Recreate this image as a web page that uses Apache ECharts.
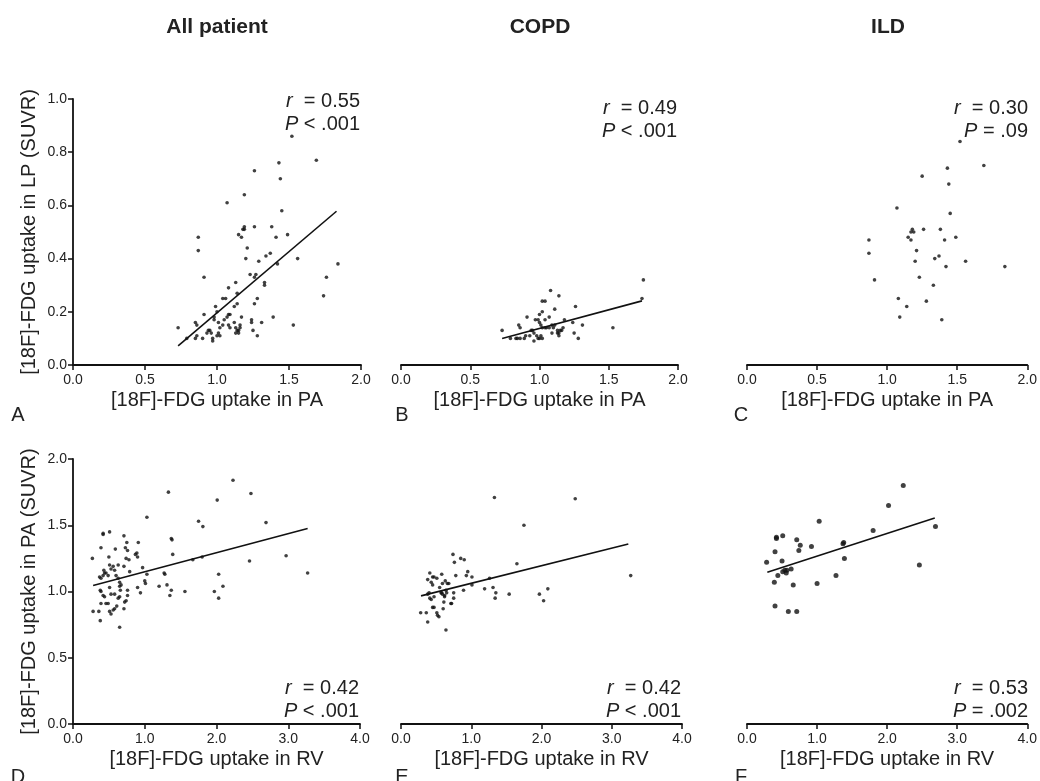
<!DOCTYPE html>
<html>
<head>
<meta charset="utf-8">
<script src="https://cdn.jsdelivr.net/npm/echarts@6/dist/echarts.min.js"></script>
<style>
html, body { margin: 0; padding: 0; background: #fff; }
#main { width: 1040px; height: 781px; }
</style>
</head>
<body>
<div id="main"></div>
<script>
// 列标题
const columnTitles = ['All patient', 'COPD', 'ILD'];
const panelLetters = ['A', 'B', 'C', 'D', 'E', 'F'];

// LP vs PA (top row): [PA, LP]
const allLpPa = [[0.73,0.14],[0.79,0.10],[0.85,0.16],[0.86,0.15],[0.85,0.10],[0.86,0.11],[0.87,0.48],[0.87,0.43],[0.91,0.33],[0.91,0.19],[0.90,0.10],[0.93,0.12],[0.94,0.13],[0.95,0.13],[0.96,0.12],[0.99,0.22],[0.98,0.18],[0.98,0.17],[1.00,0.20],[0.97,0.09],[0.97,0.10],[1.00,0.11],[1.01,0.12],[1.02,0.11],[1.01,0.16],[1.02,0.14],[1.05,0.17],[1.04,0.15],[1.04,0.25],[1.06,0.25],[1.07,0.18],[1.08,0.15],[1.09,0.14],[1.08,0.29],[1.07,0.61],[1.08,0.19],[1.09,0.19],[1.12,0.22],[1.12,0.16],[1.13,0.31],[1.14,0.23],[1.14,0.27],[1.13,0.14],[1.14,0.13],[1.15,0.13],[1.16,0.14],[1.13,0.12],[1.15,0.12],[1.16,0.15],[1.17,0.18],[1.15,0.49],[1.17,0.48],[1.18,0.51],[1.19,0.52],[1.19,0.51],[1.19,0.64],[1.20,0.40],[1.21,0.44],[1.23,0.34],[1.24,0.17],[1.24,0.16],[1.26,0.73],[1.26,0.52],[1.26,0.33],[1.27,0.34],[1.26,0.23],[1.25,0.13],[1.28,0.11],[1.28,0.25],[1.29,0.39],[1.31,0.16],[1.33,0.30],[1.33,0.31],[1.34,0.41],[1.37,0.42],[1.38,0.52],[1.39,0.18],[1.41,0.48],[1.42,0.38],[1.43,0.76],[1.44,0.70],[1.45,0.58],[1.49,0.49],[1.52,0.86],[1.53,0.15],[1.56,0.40],[1.69,0.77],[1.74,0.26],[1.76,0.33],[1.84,0.38]];
const allLpPaFit = [[0.73,0.072],[1.83,0.578]];

const copdLpPa = [[1.75,0.32],[1.74,0.25],[1.53,0.14],[1.31,0.15],[1.26,0.22],[1.25,0.12],[1.24,0.16],[1.28,0.10],[1.18,0.17],[1.17,0.14],[1.14,0.26],[1.08,0.28],[1.11,0.21],[1.02,0.24],[1.04,0.24],[1.07,0.18],[1.04,0.17],[1.02,0.20],[1.00,0.19],[0.97,0.17],[0.99,0.17],[0.91,0.18],[1.00,0.16],[1.01,0.15],[1.02,0.14],[1.04,0.14],[1.05,0.14],[1.07,0.14],[1.09,0.15],[1.11,0.15],[1.13,0.13],[1.14,0.12],[1.15,0.13],[1.16,0.13],[1.13,0.12],[1.14,0.11],[0.94,0.13],[0.95,0.13],[0.96,0.12],[0.98,0.11],[0.99,0.10],[0.96,0.09],[1.01,0.11],[1.02,0.10],[1.00,0.10],[0.85,0.15],[0.86,0.14],[0.89,0.10],[0.90,0.11],[0.84,0.10],[0.86,0.10],[0.83,0.10],[0.79,0.10],[0.73,0.13],[0.93,0.11],[1.09,0.12],[1.10,0.14]];
const copdLpPaFit = [[0.73,0.10],[1.74,0.241]];

const ildLpPa = [[1.52,0.84],[1.69,0.75],[1.43,0.74],[1.44,0.68],[1.25,0.71],[1.07,0.59],[1.45,0.57],[1.18,0.51],[1.19,0.50],[1.17,0.50],[1.26,0.51],[1.38,0.51],[1.15,0.48],[1.17,0.47],[1.41,0.47],[1.49,0.48],[0.87,0.47],[0.87,0.42],[1.21,0.43],[1.37,0.41],[1.34,0.40],[1.20,0.39],[1.56,0.39],[1.42,0.37],[1.84,0.37],[1.23,0.33],[0.91,0.32],[1.33,0.30],[1.08,0.25],[1.28,0.24],[1.14,0.22],[1.09,0.18],[1.39,0.17]];

// PA vs RV (bottom row): [RV, PA]
const allPaRv = [[0.27,1.25],[0.28,0.85],[0.36,0.85],[0.38,0.78],[0.39,1.33],[0.42,1.43],[0.42,1.44],[0.51,1.45],[0.50,1.26],[0.37,1.11],[0.39,1.10],[0.42,1.12],[0.43,1.16],[0.44,1.14],[0.38,1.01],[0.39,1.00],[0.42,0.97],[0.44,0.96],[0.39,0.91],[0.46,0.91],[0.49,0.91],[0.51,0.85],[0.53,0.83],[0.56,0.86],[0.58,0.87],[0.46,1.14],[0.49,1.12],[0.51,1.20],[0.53,1.17],[0.56,1.19],[0.58,1.16],[0.51,1.03],[0.53,0.98],[0.58,0.98],[0.59,1.32],[0.60,1.12],[0.63,1.10],[0.65,1.07],[0.63,1.20],[0.65,1.04],[0.67,1.05],[0.66,1.01],[0.65,0.96],[0.63,0.95],[0.61,0.89],[0.65,0.73],[0.71,1.42],[0.71,1.19],[0.71,0.87],[0.73,1.33],[0.75,1.37],[0.76,1.31],[0.74,1.25],[0.78,1.24],[0.72,0.92],[0.74,0.93],[0.76,0.97],[0.76,1.01],[0.79,1.15],[0.87,1.28],[0.89,1.29],[0.90,1.26],[0.91,1.37],[0.90,1.03],[0.94,0.99],[0.97,1.18],[1.00,1.08],[1.01,1.06],[1.03,1.56],[1.03,1.13],[1.20,1.04],[1.27,1.14],[1.28,1.13],[1.31,1.05],[1.33,1.75],[1.35,0.97],[1.37,1.01],[1.37,1.40],[1.38,1.39],[1.39,1.28],[1.56,1.00],[1.67,1.24],[1.75,1.53],[1.81,1.49],[1.80,1.26],[1.97,1.00],[2.01,1.69],[2.03,1.13],[2.03,0.95],[2.09,1.04],[2.23,1.84],[2.46,1.23],[2.48,1.74],[2.69,1.52],[2.97,1.27],[3.27,1.14]];
const allPaRvFit = [[0.28,1.045],[3.27,1.475]];

const copdPaRv = [[1.33,1.71],[2.48,1.70],[1.75,1.50],[1.65,1.21],[3.27,1.12],[1.26,1.10],[1.31,1.03],[1.19,1.02],[1.35,0.99],[1.34,0.95],[1.54,0.98],[1.97,0.98],[2.09,1.02],[2.03,0.93],[0.89,1.01],[1.01,1.05],[1.01,1.11],[0.95,1.15],[0.93,1.12],[0.85,1.25],[0.90,1.24],[0.74,1.28],[0.76,1.22],[0.78,1.12],[0.75,0.99],[0.75,0.95],[0.71,0.91],[0.72,0.91],[0.64,0.71],[0.66,1.06],[0.68,1.06],[0.63,1.08],[0.59,1.06],[0.58,1.13],[0.64,1.01],[0.65,0.99],[0.62,0.96],[0.61,0.92],[0.60,0.87],[0.55,1.03],[0.57,0.99],[0.59,0.98],[0.62,0.97],[0.51,1.10],[0.47,1.11],[0.41,1.14],[0.43,1.07],[0.45,1.11],[0.38,1.09],[0.45,1.05],[0.40,0.99],[0.38,0.98],[0.41,0.95],[0.43,0.94],[0.47,0.96],[0.45,0.88],[0.47,0.88],[0.51,0.84],[0.52,0.82],[0.54,0.81],[0.28,0.84],[0.36,0.84],[0.38,0.77],[0.58,0.99]];
const copdPaRvFit = [[0.285,0.967],[3.236,1.359]];

const ildPaRv = [[2.23,1.80],[2.02,1.65],[1.03,1.53],[1.80,1.46],[2.69,1.49],[2.46,1.20],[0.42,1.41],[0.42,1.40],[0.51,1.42],[0.71,1.39],[0.76,1.35],[0.74,1.31],[0.92,1.34],[0.40,1.30],[1.38,1.37],[1.37,1.36],[0.28,1.22],[0.50,1.23],[1.39,1.25],[0.51,1.15],[0.54,1.16],[0.57,1.16],[0.56,1.14],[0.63,1.17],[0.44,1.12],[0.39,1.07],[0.66,1.05],[1.00,1.06],[1.27,1.12],[0.40,0.89],[0.59,0.85],[0.71,0.85]];
const ildPaRvFit = [[0.29,1.146],[2.68,1.555]];

// r / P
const rValues = ['0.55', '0.49', '0.30', '0.42', '0.42', '0.53'];
const pValues = ['< .001', '< .001', '= .09', '< .001', '< .001', '= .002'];

const FONT = '"Liberation Sans", Arial, sans-serif';
const chart = echarts.init(document.getElementById('main'));

const panels = [
    { grid: { left: 73, top: 99, width: 288, height: 266 }, pts: allLpPa, fit: allLpPaFit, row: 0, showY: true, dot: 3.6 },
    { grid: { left: 401, top: 99, width: 277, height: 266 }, pts: copdLpPa, fit: copdLpPaFit, row: 0, showY: false, dot: 3.6 },
    { grid: { left: 747, top: 99, width: 282, height: 266 }, pts: ildLpPa, fit: null, row: 0, showY: false, dot: 3.6 },
    { grid: { left: 73, top: 459, width: 287, height: 265 }, pts: allPaRv, fit: allPaRvFit, row: 1, showY: true, dot: 3.6 },
    { grid: { left: 401, top: 459, width: 281, height: 265 }, pts: copdPaRv, fit: copdPaRvFit, row: 1, showY: false, dot: 3.6 },
    { grid: { left: 747, top: 459, width: 282, height: 265 }, pts: ildPaRv, fit: ildPaRvFit, row: 1, showY: false, dot: 5 }
];

const rows = [
    { xMax: 2, xInt: 0.5, yMax: 1, yInt: 0.2, xName: '[18F]-FDG uptake in PA', yName: '[18F]-FDG uptake in LP (SUVR)' },
    { xMax: 4, xInt: 1, yMax: 2, yInt: 0.5, xName: '[18F]-FDG uptake in RV', yName: '[18F]-FDG uptake in PA (SUVR)' }
];

const axisLine = { show: true, lineStyle: { color: '#111', width: 1.8 } };
const axisTick = { show: true, length: 5, lineStyle: { color: '#111', width: 1.5 } };
const axisLabel = { fontSize: 14, color: '#222', fontFamily: FONT, margin: 8, formatter: v => v.toFixed(1) };

let grid = [], xAxis = [], yAxis = [], series = [], graphic = [];

panels.forEach((p, i) => {
    const r = rows[p.row];
    grid.push(p.grid);
    xAxis.push({
        type: 'value', gridIndex: i, min: 0, max: r.xMax, interval: r.xInt,
        axisLine: Object.assign({ onZero: false }, axisLine), axisTick, axisLabel, splitLine: { show: false },
        name: r.xName, nameLocation: 'middle', nameGap: 25,
        nameTextStyle: { fontSize: 20, color: '#222', fontFamily: FONT }
    });
    yAxis.push({
        type: 'value', gridIndex: i, min: 0, max: r.yMax, interval: r.yInt, show: p.showY,
        axisLine: Object.assign({ onZero: false }, axisLine), axisTick,
        axisLabel: Object.assign({}, axisLabel, { margin: 6 }), splitLine: { show: false },
        name: r.yName, nameLocation: 'middle', nameGap: 34, nameRotate: 90,
        nameTextStyle: { fontSize: 20, color: '#222', fontFamily: FONT }
    });
    series.push({
        type: 'scatter', xAxisIndex: i, yAxisIndex: i, data: p.pts,
        symbol: 'circle', symbolSize: p.dot, itemStyle: { color: '#111' }, silent: true
    });
    if (p.fit) {
        series.push({
            type: 'line', xAxisIndex: i, yAxisIndex: i, data: p.fit,
            symbol: 'none', lineStyle: { color: '#111', width: 1.6 }, silent: true
        });
    }

    // r / P 文本
    const right = p.grid.left + p.grid.width - 1;
    const top = p.row === 0 ? (i === 0 ? 90 : 97) : 677;
    graphic.push({
        type: 'text', x: right, y: top,
        style: {
            text: '{i|r}{n|  = ' + rValues[i] + '}\n{i|P}{n| ' + pValues[i] + '}',
            align: 'right', verticalAlign: 'top', fill: '#222',
            fontSize: 20, fontFamily: FONT, lineHeight: 23,
            rich: {
                i: { fontStyle: 'italic', fontSize: 20, fontFamily: FONT, lineHeight: 23, fill: '#222' },
                n: { fontSize: 20, fontFamily: FONT, lineHeight: 23, fill: '#222' }
            }
        }
    });
});

// 列标题
const titleX = [217, 540, 888];
columnTitles.forEach((t, i) => {
    graphic.push({
        type: 'text', x: titleX[i], y: 27,
        style: { text: t, align: 'center', verticalAlign: 'middle', fontSize: 21, fontWeight: 'bold', fontFamily: FONT, fill: '#222' }
    });
});

// 面板字母
const letterPos = [[18, 415], [402, 415], [741, 415], [18, 777], [402, 777], [741, 777]];
panelLetters.forEach((t, i) => {
    graphic.push({
        type: 'text', x: letterPos[i][0], y: letterPos[i][1],
        style: { text: t, align: 'center', verticalAlign: 'middle', fontSize: 20, fontFamily: FONT, fill: '#222' }
    });
});

chart.setOption({
    animation: false,
    backgroundColor: '#fff',
    grid, xAxis, yAxis, series, graphic
});
</script>
</body>
</html>
